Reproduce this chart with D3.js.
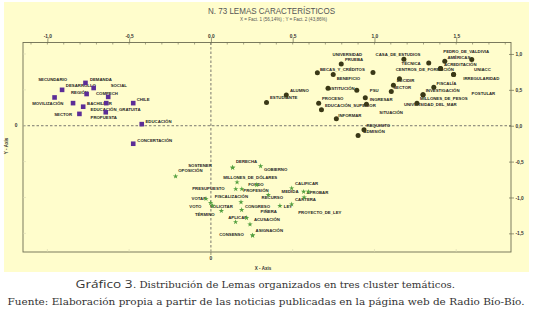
<!DOCTYPE html>
<html><head><meta charset="utf-8">
<script src="https://cdn.jsdelivr.net/npm/d3@7"></script>
<style>html,body{margin:0;padding:0;background:#fff;}svg{display:block}</style>
</head><body>
<svg id="c" width="534" height="311"></svg>
<script>
// ---------- DATA ----------
const titleText = "N. 73 LEMAS CARACTERÍSTICOS";
const subtitleText = "X = Fact. 1 (56,14%) ; Y = Fact. 2 (43,86%)";
const xTickValues = [-1, -0.5, 0, 0.5, 1, 1.5];
const yTickValues = [1, 0.5, 0, -0.5, -1, -1.5];

// [lema, factor1, factor2]
const cluster1 = [
  ["DESARROLLO", -0.910, 0.500],
  ["DEMANDA", -0.767, 0.597],
  ["SOCIAL", -0.717, 0.526],
  ["REGIÓN", -0.760, 0.442],
  ["COMPECH", -0.628, 0.402],
  ["SECUNDARIO", -0.956, 0.394],
  ["MOVILIZACIÓN", -0.843, 0.315],
  ["BACHILLER", -0.781, 0.265],
  ["EDUCACIÓN_GRATUITA", -0.640, 0.315],
  ["CHILE", -0.475, 0.315],
  ["SECTOR", -0.804, 0.165],
  ["PROPUESTA", -0.643, 0.188],
  ["EDUCACIÓN", -0.423, 0.022],
  ["CONCERTACIÓN", -0.475, -0.251]
];
// label anchors (factor units) for cluster1, same order
const cluster1Labels = [
  [-0.887, 0.560], [-0.740, 0.650], [-0.613, 0.556], [-0.856, 0.468],
  [-0.703, 0.454], [-1.056, 0.650], [-1.093, 0.314], [-0.757, 0.314],
  [-0.736, 0.220], [-0.454, 0.370], [-0.958, 0.160], [-0.736, 0.122],
  [-0.400, 0.066], [-0.450, -0.200]
];

const cluster2 = [
  ["UNIVERSIDAD", 0.991, 0.742],
  ["PRUEBA", 0.797, 0.859],
  ["CASA_DE_ESTUDIOS", 1.180, 0.925],
  ["TÉCNICA", 1.332, 0.875],
  ["AMÉRICAS", 1.430, 0.897],
  ["PEDRO_DE_VALDIVIA", 1.595, 0.922],
  ["ACREDITACIÓN", 1.404, 0.797],
  ["CENTROS_DE_FORMACIÓN", 1.404, 0.797],
  ["UNIACC", 1.484, 0.713],
  ["IRREGULARIDAD", 1.484, 0.713],
  ["BECAS_Y_CRÉDITOS", 0.651, 0.737],
  ["BENEFICIO", 0.748, 0.715],
  ["DECIDIR", 1.153, 0.655],
  ["SECTOR", 1.116, 0.563],
  ["POSTULAR", 1.103, 0.476],
  ["FISCALÍA", 1.363, 0.538],
  ["INVESTIGACIÓN", 1.297, 0.432],
  ["MILLONES_DE_PESOS", 1.297, 0.432],
  ["UNIVERSIDAD_DEL_MAR", 1.260, 0.315],
  ["INSTITUCIÓN", 0.716, 0.524],
  ["PSU", 0.892, 0.495],
  ["INGRESAR", 0.944, 0.390],
  ["SITUACIÓN", 0.951, 0.301],
  ["PROCESO", 0.659, 0.312],
  ["EDUCACIÓN_SUPERIOR", 0.676, 0.221],
  ["INFORMAR", 0.767, 0.097],
  ["ALUMNO", 0.461, 0.430],
  ["ESTUDIANTE", 0.340, 0.325],
  ["REQUISITO", 0.936, -0.056],
  ["ADMISIÓN", 0.900, -0.135]
];
const cluster2Labels = [
  [0.744, 0.999], [0.820, 0.920], [1.007, 0.990], [1.166, 0.874],
  [1.446, 0.958], [1.421, 1.036], [1.425, 0.860], [1.130, 0.780],
  [1.609, 0.780], [1.543, 0.664], [0.667, 0.790], [0.769, 0.664],
  [1.136, 0.626], [1.115, 0.532], [1.594, 0.454], [1.380, 0.594],
  [1.313, 0.496], [1.278, 0.384], [1.180, 0.290], [0.711, 0.524],
  [0.972, 0.496], [0.972, 0.370], [1.030, 0.188], [0.679, 0.374],
  [0.697, 0.276], [0.779, 0.150], [0.483, 0.486], [0.361, 0.392],
  [0.952, 0.010], [0.932, -0.074]
];

const cluster3 = [
  ["SOSTENER", 0.133, -0.583],
  ["OPOSICIÓN", -0.216, -0.705],
  ["DERECHA", 0.133, -0.583],
  ["GOBIERNO", 0.304, -0.563],
  ["MILLONES_DE_DÓLARES", 0.160, -0.788],
  ["FONDO", 0.280, -0.825],
  ["PRESUPUESTO", 0.152, -0.882],
  ["PROFESIÓN", 0.189, -0.882],
  ["CALIFICAR", 0.494, -0.872],
  ["MEDIDA", 0.567, -0.920],
  ["APROBAR", 0.596, -0.920],
  ["RECURSO", 0.351, -0.965],
  ["CARTERA", 0.570, -1.000],
  ["FISCALIZACIÓN", 0.184, -1.065],
  ["CONGRESO", 0.188, -1.173],
  ["LEY", 0.422, -1.116],
  ["PROYECTO_DE_LEY", 0.494, -1.095],
  ["VOTAR", -0.030, -1.018],
  ["VOTO", -0.002, -1.075],
  ["SOLICITAR", 0.010, -1.115],
  ["TÉRMINO", 0.064, -1.186],
  ["PIÑERA", 0.218, -1.285],
  ["APLICAR", 0.151, -1.342],
  ["ACUSACIÓN", 0.239, -1.374],
  ["ASIGNACIÓN", 0.255, -1.530],
  ["CONSENSO", 0.255, -1.530]
];
const cluster3Labels = [
  [-0.139, -0.550], [-0.200, -0.630], [0.153, -0.504], [0.324, -0.606],
  [0.075, -0.723], [0.228, -0.817], [-0.114, -0.877], [0.198, -0.896],
  [0.514, -0.807], [0.432, -0.915], [0.585, -0.933], [0.310, -1.003],
  [0.514, -1.027], [0.024, -0.990], [0.208, -1.120], [0.446, -1.120],
  [0.534, -1.213], [-0.118, -1.017], [-0.132, -1.125], [-0.006, -1.120],
  [-0.098, -1.241], [0.304, -1.195], [0.106, -1.274], [0.263, -1.307],
  [0.273, -1.465], [0.051, -1.521]
];

// ---------- DRAW ----------
const svg = d3.select("#c");
const L = 23, R = 511, T = 42.5, B = 252;
const x = d3.scaleLinear().domain([-1.149, 1.835]).range([L, R]);
const y = d3.scaleLinear().domain([1.16, -1.76]).range([T, B]);
const loc = d3.formatLocale({decimal: ",", thousands: ".", grouping: [3], currency: ["", ""], minus: "-"});
const fmt = loc.format(".1f");
const labelFont = "bold 4.3px 'Liberation Sans', Arial, sans-serif";
const axisFont = "bold 4.8px 'Liberation Sans', Arial, sans-serif";
const frameColor = "#6d6d52";

svg.append("rect").attr("x", 4).attr("y", 2).attr("width", 525).attr("height", 270).attr("fill", "#fffdcc");

svg.append("text").attr("x", 208).attr("y", 14).attr("textLength", 127).attr("lengthAdjust", "spacingAndGlyphs")
  .style("font", "9.5px 'Liberation Sans', Arial, sans-serif").attr("fill", "#555").text(titleText);
svg.append("text").attr("x", 240).attr("y", 20.8).attr("textLength", 87).attr("lengthAdjust", "spacingAndGlyphs")
  .style("font", "4.6px 'Liberation Sans', Arial, sans-serif").attr("fill", "#555").text(subtitleText);

// zero dashed lines
svg.append("line").attr("x1", x(0)).attr("x2", x(0)).attr("y1", T).attr("y2", B)
  .attr("stroke", "#555").attr("stroke-width", 0.8).attr("stroke-dasharray", "2.5,2");
svg.append("line").attr("x1", L).attr("x2", R).attr("y1", y(0)).attr("y2", y(0))
  .attr("stroke", "#555").attr("stroke-width", 0.8).attr("stroke-dasharray", "2.5,2");

// frame
svg.append("rect").attr("x", L).attr("y", T).attr("width", R - L).attr("height", B - T)
  .attr("fill", "none").attr("stroke", frameColor).attr("stroke-width", 0.9);

// top axis: minor ticks
const minor = d3.range(-11, 19).map(d => d / 10);
svg.append("g").selectAll("line").data(minor).join("line")
  .attr("x1", d => x(d)).attr("x2", d => x(d)).attr("y1", T).attr("y2", T + 2)
  .attr("stroke", frameColor).attr("stroke-width", 0.6);
const topAxis = d3.axisTop(x).tickValues(xTickValues).tickFormat(fmt).tickSize(4).tickPadding(0.8);
const gTop = svg.append("g").attr("transform", `translate(0,${T})`).call(topAxis);
gTop.select(".domain").remove();
gTop.selectAll("line").attr("stroke", frameColor).attr("stroke-width", 0.7);
gTop.selectAll("text").style("font", axisFont).attr("fill", "#333");

// right axis
const rightAxis = d3.axisRight(y).tickValues(yTickValues).tickFormat(fmt).tickSize(3).tickPadding(1.5);
const gRight = svg.append("g").attr("transform", `translate(${R},0)`).call(rightAxis);
gRight.select(".domain").remove();
gRight.selectAll("line").attr("stroke", frameColor).attr("stroke-width", 0.7).attr("x1", -2);
gRight.selectAll("text").style("font", axisFont).attr("fill", "#333");

// left zero label & bottom zero label
svg.append("text").attr("x", 16).attr("y", y(0)).attr("dy", "0.35em").attr("text-anchor", "middle")
  .style("font", axisFont).attr("fill", "#333").text("0");
svg.append("line").attr("x1", x(0)).attr("x2", x(0)).attr("y1", B).attr("y2", B + 3)
  .attr("stroke", frameColor).attr("stroke-width", 0.7);
svg.append("text").attr("x", x(0)).attr("y", B + 7.5).attr("text-anchor", "middle")
  .style("font", axisFont).attr("fill", "#333").text("0");
// faint inner ticks on bottom / left
svg.append("g").selectAll("line").data(xTickValues).join("line")
  .attr("x1", d => x(d)).attr("x2", d => x(d)).attr("y1", B - 3).attr("y2", B)
  .attr("stroke", "#d8d6b0").attr("stroke-width", 0.6);
svg.append("g").selectAll("line").data(yTickValues).join("line")
  .attr("x1", L).attr("x2", L + 3).attr("y1", d => y(d)).attr("y2", d => y(d))
  .attr("stroke", "#d8d6b0").attr("stroke-width", 0.6);

svg.append("text").attr("x", 263).attr("y", 269.5).attr("text-anchor", "middle")
  .style("font", "bold 4.5px 'Liberation Sans', Arial, sans-serif").attr("fill", "#333").text("X - Axis");
svg.append("text").attr("transform", "translate(8,146) rotate(-90)").attr("text-anchor", "middle")
  .style("font", "bold 4.5px 'Liberation Sans', Arial, sans-serif").attr("fill", "#333").text("Y - Axis");

// labels (drawn below markers)
function drawLabels(data, labels) {
  svg.append("g").selectAll("text").data(data).join("text")
    .attr("x", (d, i) => x(labels[i][0])).attr("y", (d, i) => y(labels[i][1]))
    .attr("dy", "0.36em").style("font", labelFont).attr("fill", "#1e1e1e").text(d => d[0]);
}
drawLabels(cluster1, cluster1Labels);
drawLabels(cluster2, cluster2Labels);
drawLabels(cluster3, cluster3Labels);

// markers
const sq = 4.6;
svg.append("g").selectAll("rect").data(cluster1).join("rect")
  .attr("x", d => x(d[1]) - sq / 2).attr("y", d => y(d[2]) - sq / 2)
  .attr("width", sq).attr("height", sq).attr("fill", "#5b2d97");
svg.append("g").selectAll("circle").data(cluster2).join("circle")
  .attr("cx", d => x(d[1])).attr("cy", d => y(d[2])).attr("r", 2.5).attr("fill", "#3a3816");
const star = d3.symbol().type(d3.symbolStar).size(9);
svg.append("g").selectAll("path").data(cluster3).join("path")
  .attr("transform", d => `translate(${x(d[1])},${y(d[2])})`).attr("d", star).attr("fill", "#55a040");

// caption
svg.append("text").attr("x", 75.5).attr("y", 288).attr("textLength", 57).attr("lengthAdjust", "spacingAndGlyphs")
  .style("font", "11px 'Open Sans', 'Liberation Sans', sans-serif").attr("fill", "#333").text("Gráfico 3");
svg.append("text").attr("x", 133).attr("y", 288).attr("textLength", 322).attr("lengthAdjust", "spacingAndGlyphs")
  .style("font", "9px 'DejaVu Serif', serif").attr("fill", "#333")
  .text(". Distribución de Lemas organizados en tres cluster temáticos.");
svg.append("text").attr("x", 7.5).attr("y", 304.5).attr("textLength", 517).attr("lengthAdjust", "spacingAndGlyphs")
  .style("font", "8.6px 'DejaVu Serif', serif").attr("fill", "#333")
  .text("Fuente: Elaboración propia a partir de las noticias publicadas en la página web de Radio Bío-Bío.");
</script>
</body></html>
